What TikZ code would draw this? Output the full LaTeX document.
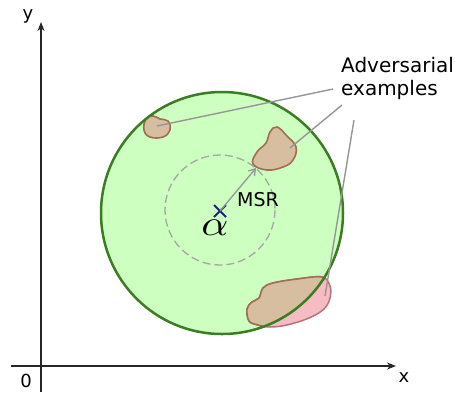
\documentclass[tikz,border=0pt]{standalone}
\usepackage{fontspec}
\setmainfont{DejaVu Sans}
\usetikzlibrary{arrows.meta}
\definecolor{regfill}{RGB}{204,255,192}
\definecolor{regline}{RGB}{58,125,34}
\definecolor{blobfill}{RGB}{216,190,160}
\definecolor{blobline}{RGB}{160,110,85}
\definecolor{pinkfill}{RGB}{245,188,196}
\definecolor{pinkline}{RGB}{185,115,120}
\definecolor{leader}{RGB}{150,150,150}
\definecolor{markblue}{RGB}{25,35,120}
\tikzset{
  axis/.style={line width=1.5pt, draw=black!85, -{Stealth[length=9pt,width=7pt]}},
  lead/.style={draw=leader, line width=1.4pt},
  blob/.style={fill=blobfill, draw=blobline, line width=1.6pt},
  lbl/.style={inner sep=0pt, font=\fontsize{18}{20}\selectfont},
}
\begin{document}
\begin{tikzpicture}[x=1pt,y=-1pt]
\useasboundingbox (0,0) rectangle (455,392);
% axes
\coordinate (ybot) at (41,392);
\coordinate (ytop) at (41,22);
\coordinate (xl) at (11,366);
\coordinate (xr) at (396,366);
\draw[axis] (ybot) -- (ytop);
\draw[axis] (xl) -- (xr);
\node[lbl] (ylab) at (28,16) {y};
\node[lbl] (xlab) at (404,378) {x};
\node[lbl] (zero) at (26,381) {0};
% region
\coordinate (c) at (222,213);
\fill[regfill] (c) circle[radius=121];
% dashed MSR circle
\draw[leader!85, line width=1.3pt, dash pattern=on 8pt off 4pt] (220,210) circle[radius=55];
% blob 1
\draw[blob] plot[smooth cycle, tension=0.7] coordinates {(146,119) (153,116) (160,119) (168,121) (170,130) (163,137) (150,137) (144,130)};
% blob 2
\draw[blob] plot[smooth cycle, tension=0.7] coordinates {(253,164) (257,152) (266,143) (270,132) (277,127) (287,136) (296,147) (293,160) (283,167) (267,170)};
% blob 3 (pink outside, tan inside)
\def\blobthree{plot[smooth cycle, tension=0.6] coordinates {(247,309) (252,302) (259,298) (263,288) (273,283) (297,279) (322,277) (330,286) (330,298) (324,309) (309,318) (287,325) (270,327) (258,325) (249,321)}}
\draw[fill=pinkfill, draw=pinkline, line width=1.5pt] \blobthree;
\begin{scope}
\clip (c) circle[radius=121];
\draw[blob] \blobthree;
\end{scope}
% circle outline
\draw[regline, line width=2.5pt] (c) circle[radius=121];
% centre mark
\coordinate (m) at (220,211);
\draw[markblue, line width=2pt] (214,205) -- (226,217) (214,217) -- (226,205);
\node[inner sep=0pt, font=\fontsize{10}{12}\selectfont, xscale=4.2, yscale=3.6] (alpha) at (215,227.5) {$\alpha$};
\node[lbl, font=\fontsize{19}{21}\selectfont] (msr) at (258,200) {MSR};
\coordinate (b2edge) at (256,168);
\draw[leader, line width=1.3pt, -{Straight Barb[length=6pt,width=8pt]}] (m) -- (b2edge);
% label
\node[lbl, font=\fontsize{20}{23.5}\selectfont, align=left, anchor=north west] (adv) at (341,57) {Adversarial\\examples};
\coordinate (e1) at (157,126);
\coordinate (e2) at (290,148);
\coordinate (e3) at (325,296);
\coordinate (s1) at (333,89);
\coordinate (s2) at (342,105);
\coordinate (s3) at (354,120);
\draw[lead] (s1) -- (e1);
\draw[lead] (s2) -- (e2);
\draw[lead] (s3) -- (e3);
\end{tikzpicture}
\end{document}
